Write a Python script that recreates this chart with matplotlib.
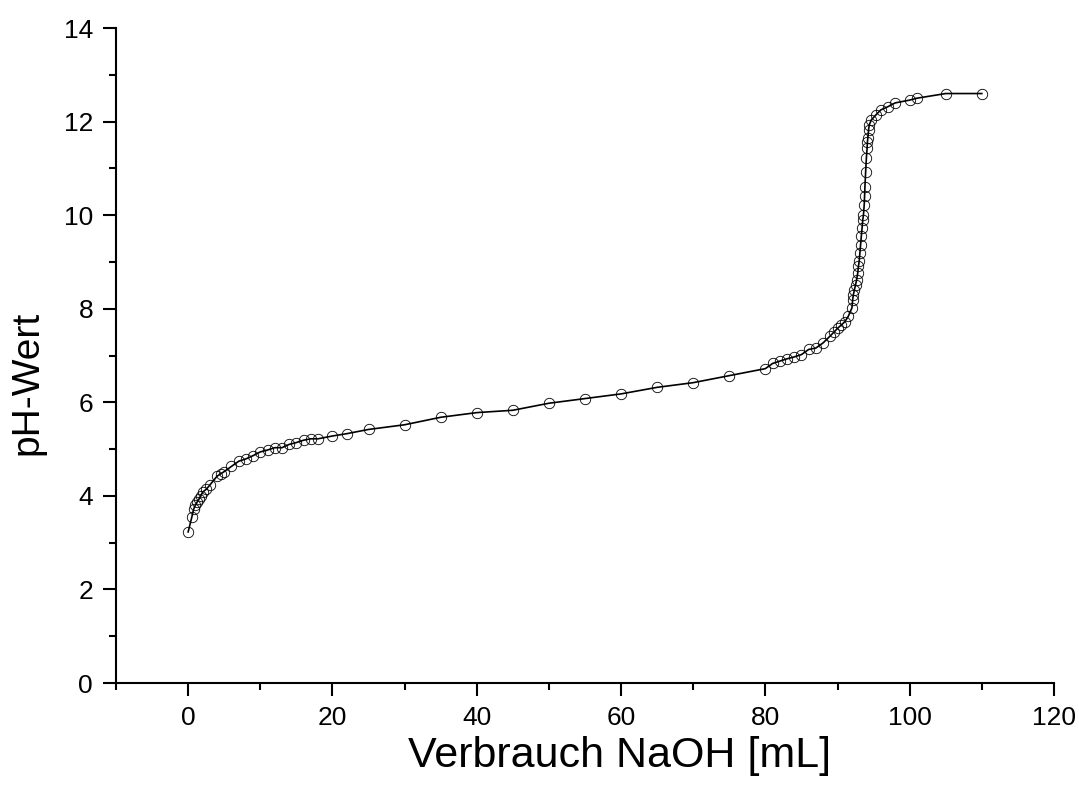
import numpy as np
import matplotlib
matplotlib.use('Agg')
import matplotlib.pyplot as plt
from matplotlib.ticker import MultipleLocator

plt.rcParams['font.family'] = ['Liberation Sans', 'DejaVu Sans']

# titration data: volume NaOH [mL] vs pH
volume = [0, 0.5, 0.75, 1.0, 1.25, 1.5, 1.75, 2.0, 2.5, 3.0, 4.0, 4.5, 5.0,
          6, 7, 8, 9, 10, 11, 12, 13, 14, 15, 16, 17, 18, 20, 22, 25,
          30, 35, 40, 45, 50, 55, 60, 65, 70, 75, 80, 81, 82, 83, 84, 85,
          86, 87, 88, 89, 89.5, 90, 90.5, 91, 91.5,
          92.0, 92.1, 92.2, 92.35, 92.5, 92.65, 92.8, 92.9, 93.0, 93.1,
          93.2, 93.3, 93.4, 93.5, 93.6, 93.7, 93.75, 93.8, 93.9, 94.0,
          94.1, 94.15, 94.2, 94.3, 94.4, 94.7, 95.3, 96.0, 97, 98, 100,
          101, 105, 110]
ph = [3.23, 3.54, 3.71, 3.80, 3.87, 3.93, 4.0, 4.08, 4.14, 4.23, 4.42, 4.47, 4.52,
      4.63, 4.74, 4.79, 4.86, 4.94, 4.98, 5.03, 5.03, 5.10, 5.14, 5.19, 5.22, 5.22,
      5.28, 5.33, 5.42,
      5.52, 5.68, 5.78, 5.83, 5.98, 6.08, 6.18, 6.32, 6.42, 6.57, 6.72, 6.83, 6.88,
      6.93, 6.97, 7.02,
      7.13, 7.16, 7.27, 7.42, 7.50, 7.58, 7.65, 7.72, 7.84,
      8.02, 8.19, 8.30, 8.41, 8.51, 8.62, 8.76, 8.91, 9.01, 9.19,
      9.37, 9.55, 9.72, 9.90, 10.01, 10.22, 10.40, 10.61, 10.93, 11.22,
      11.43, 11.57, 11.64, 11.82, 11.93, 12.04, 12.14, 12.25, 12.32, 12.40, 12.46,
      12.50, 12.60, 12.60]

fig = plt.figure(figsize=(10.79, 7.92), dpi=100)
ax = fig.add_axes([0.1075, 0.1376, 0.8693, 0.8270])

ax.plot(volume, ph, color='black', lw=1.2, zorder=2)
ax.plot(volume, ph, ls='none', marker='o', ms=7.5, mfc='none', mec='black',
        mew=0.6, zorder=3)

ax.set_xlim(-10, 120)
ax.set_ylim(0, 14)
ax.xaxis.set_major_locator(MultipleLocator(20))
ax.xaxis.set_minor_locator(MultipleLocator(10))
ax.yaxis.set_major_locator(MultipleLocator(2))
ax.yaxis.set_minor_locator(MultipleLocator(1))

for side in ['top', 'right']:
    ax.spines[side].set_visible(False)
for side in ['left', 'bottom']:
    ax.spines[side].set_linewidth(1.5)

ax.tick_params(which='major', direction='out', length=9.5, width=1.5,
               labelsize=19, pad=7)
ax.tick_params(which='minor', direction='out', length=5, width=1.5)

# axis titles placed like in the original (Origin-style offsets)
fig.text(620 / 1079, 1 - 767 / 792, 'Verbrauch NaOH [mL]', fontsize=31,
         ha='center', va='baseline')
fig.text(27 / 1079, 1 - 383 / 792, 'pH-Wert', fontsize=28, rotation=90,
         ha='center', va='center')

fig.savefig('out.png', dpi=100)
